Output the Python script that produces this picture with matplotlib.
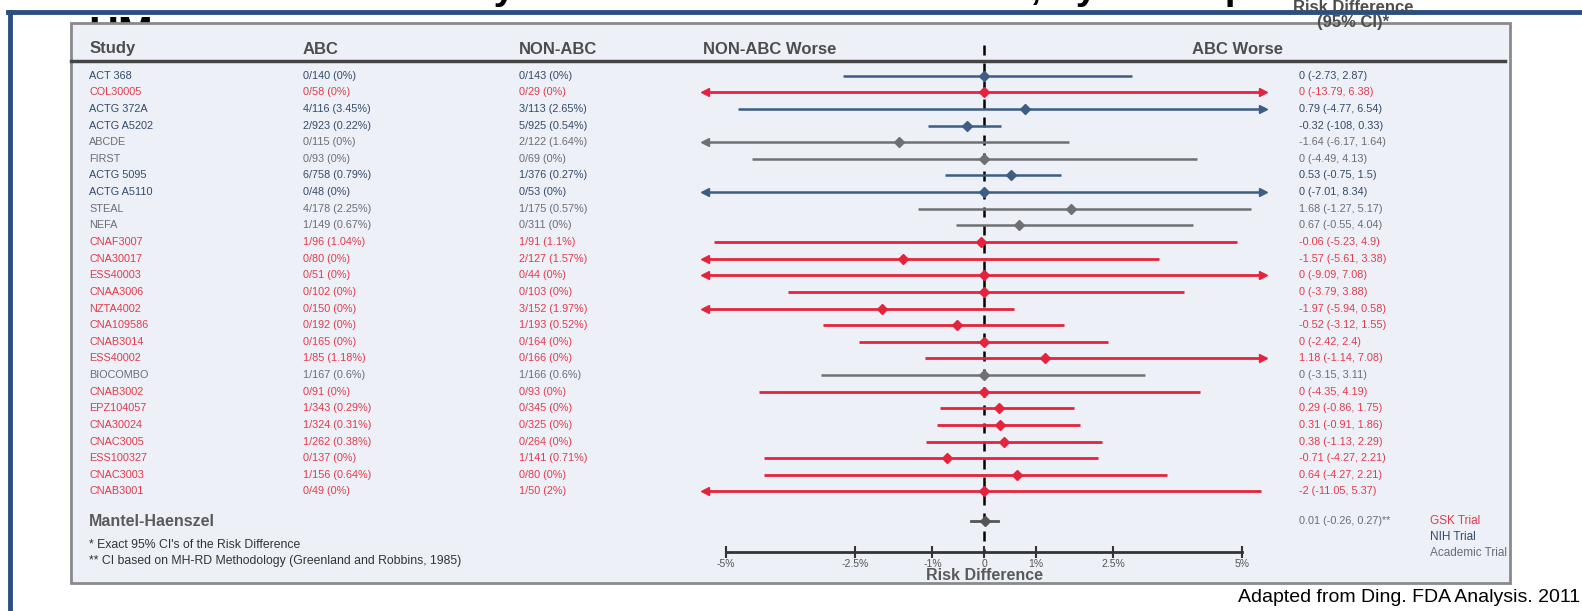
import matplotlib
matplotlib.use("Agg")
import matplotlib.pyplot as plt
from matplotlib.patches import Rectangle
from matplotlib.lines import Line2D
from matplotlib.transforms import blended_transform_factory, Bbox, TransformedBbox

# ---- data ----
studies = ["ACT 368", "COL30005", "ACTG 372A", "ACTG A5202", "ABCDE", "FIRST",
           "ACTG 5095", "ACTG A5110", "STEAL", "NEFA", "CNAF3007", "CNA30017",
           "ESS40003", "CNAA3006", "NZTA4002", "CNA109586", "CNAB3014",
           "ESS40002", "BIOCOMBO", "CNAB3002", "EPZ104057", "CNA30024",
           "CNAC3005", "ESS100327", "CNAC3003", "CNAB3001"]
sponsor = ["nih", "gsk", "nih", "nih", "acad", "acad", "nih", "nih", "acad",
           "acad", "gsk", "gsk", "gsk", "gsk", "gsk", "gsk", "gsk", "gsk",
           "acad", "gsk", "gsk", "gsk", "gsk", "gsk", "gsk", "gsk"]
abc = ["0/140 (0%)", "0/58 (0%)", "4/116 (3.45%)", "2/923 (0.22%)",
       "0/115 (0%)", "0/93 (0%)", "6/758 (0.79%)", "0/48 (0%)",
       "4/178 (2.25%)", "1/149 (0.67%)", "1/96 (1.04%)", "0/80 (0%)",
       "0/51 (0%)", "0/102 (0%)", "0/150 (0%)", "0/192 (0%)", "0/165 (0%)",
       "1/85 (1.18%)", "1/167 (0.6%)", "0/91 (0%)", "1/343 (0.29%)",
       "1/324 (0.31%)", "1/262 (0.38%)", "0/137 (0%)", "1/156 (0.64%)",
       "0/49 (0%)"]
nonabc = ["0/143 (0%)", "0/29 (0%)", "3/113 (2.65%)", "5/925 (0.54%)",
          "2/122 (1.64%)", "0/69 (0%)", "1/376 (0.27%)", "0/53 (0%)",
          "1/175 (0.57%)", "0/311 (0%)", "1/91 (1.1%)", "2/127 (1.57%)",
          "0/44 (0%)", "0/103 (0%)", "3/152 (1.97%)", "1/193 (0.52%)",
          "0/164 (0%)", "0/166 (0%)", "1/166 (0.6%)", "0/93 (0%)",
          "0/345 (0%)", "0/325 (0%)", "0/264 (0%)", "1/141 (0.71%)",
          "0/80 (0%)", "1/50 (2%)"]
rd_text = ["0 (-2.73, 2.87)", "0 (-13.79, 6.38)", "0.79 (-4.77, 6.54)",
           "-0.32 (-108, 0.33)", "-1.64 (-6.17, 1.64)", "0 (-4.49, 4.13)",
           "0.53 (-0.75, 1.5)", "0 (-7.01, 8.34)", "1.68 (-1.27, 5.17)",
           "0.67 (-0.55, 4.04)", "-0.06 (-5.23, 4.9)", "-1.57 (-5.61, 3.38)",
           "0 (-9.09, 7.08)", "0 (-3.79, 3.88)", "-1.97 (-5.94, 0.58)",
           "-0.52 (-3.12, 1.55)", "0 (-2.42, 2.4)", "1.18 (-1.14, 7.08)",
           "0 (-3.15, 3.11)", "0 (-4.35, 4.19)", "0.29 (-0.86, 1.75)",
           "0.31 (-0.91, 1.86)", "0.38 (-1.13, 2.29)", "-0.71 (-4.27, 2.21)",
           "0.64 (-4.27, 2.21)", "-2 (-11.05, 5.37)"]
est = [0, 0, 0.79, -0.32, -1.64, 0, 0.53, 0, 1.68, 0.67, -0.06, -1.57, 0, 0,
       -1.97, -0.52, 0, 1.18, 0, 0, 0.29, 0.31, 0.38, -0.71, 0.64, 0]
lo = [-2.73, -13.79, -4.77, -1.08, -6.17, -4.49, -0.75, -7.01, -1.27, -0.55,
      -5.23, -5.61, -9.09, -3.79, -5.94, -3.12, -2.42, -1.14, -3.15, -4.35,
      -0.86, -0.91, -1.13, -4.27, -4.27, -11.05]
hi = [2.87, 6.38, 6.54, 0.33, 1.64, 4.13, 1.5, 8.34, 5.17, 4.04, 4.9, 3.38,
      7.08, 3.88, 0.58, 1.55, 2.4, 7.08, 3.11, 4.19, 1.75, 1.86, 2.29, 2.21,
      3.55, 5.37]
mh_est, mh_lo, mh_hi = 0.01, -0.26, 0.27
mh_text = "0.01 (-0.26, 0.27)**"
xticks = [-5, -2.5, -1, 0, 1, 2.5, 5]
xticklabels = ["-5%", "-2.5%", "-1%", "0", "1%", "2.5%", "5%"]
legend_names = ["GSK Trial", "NIH Trial", "Academic Trial"]
legend_keys = ["gsk", "nih", "acad"]

line_col = {"gsk": "#e5233c", "nih": "#3e5d85", "acad": "#6f7073"}
text_col = {"gsk": "#e23a4c", "nih": "#34496b", "acad": "#6c6c74"}
hdr_col = "#4d4d4d"

W, H = 1582, 611
ROW0, STEP = 75.7, 16.63
CLIP = 5.4
FS = 7.8


def fx(p):
    return p / W


def fy(p):
    return 1 - p / H


def yrow(p):
    # pixel row -> data y
    return (p - ROW0) / STEP


plt.rcParams["font.family"] = ["Liberation Sans", "DejaVu Sans"]
fig = plt.figure(figsize=(W / 100, H / 100), dpi=100)

# slide frame and title (mostly off the top)
fig.add_artist(Line2D([fx(8), 1], [fy(12), fy(12)], color="#2a4f7f", lw=3.5))
fig.add_artist(Line2D([fx(10), fx(10)], [fy(12), 0], color="#2a4f7f", lw=3.5))
fig.text(0.5, fy(-1), "FDA Meta-analysis: Abacavir and Risk of MI, by Trial Sponsor",
         ha="center", va="baseline", fontsize=28, weight="bold", zorder=-3)
top_box = TransformedBbox(Bbox([[0, fy(23)], [fx(200), 1]]), fig.transFigure)
hm = fig.text(fx(88), fy(46), "HM", fontsize=30, weight="bold", zorder=-3)
hm.set_clip_box(top_box)
hm.set_clip_on(True)

# panel
panel = Rectangle((fx(71), fy(583)), fx(1510 - 71), (583 - 23) / H,
                  transform=fig.transFigure, facecolor="#edf1f7",
                  edgecolor="#8a8a8a", lw=2, zorder=-2)
fig.patches.append(panel)
panel_box = TransformedBbox(Bbox([[fx(71), fy(583)], [fx(1509), fy(23)]]),
                            fig.transFigure)

ax = fig.add_axes([fx(700), fy(575), fx(1268 - 700), (575 - 40) / H])
ax.patch.set_visible(False)
ax.set_xlim(-5.5, 5.5)
ax.set_ylim(yrow(575), yrow(40))
for s in ["top", "left", "right"]:
    ax.spines[s].set_visible(False)
ax.set_yticks([])
ax.spines["bottom"].set_position(("data", yrow(552)))
ax.spines["bottom"].set_bounds(-5, 5)
ax.spines["bottom"].set_linewidth(2)
ax.spines["bottom"].set_color("#333333")
ax.set_xticks(xticks)
ax.set_xticklabels(xticklabels)
ax.tick_params(axis="x", direction="inout", length=8, width=1.5,
               color="#333333", labelsize=7.5, labelcolor="#555555", pad=1)

# zero line
ax.plot([0, 0], [yrow(45), yrow(552)], color="black", lw=1.8,
        dashes=(4, 3.2), zorder=1)

for i in range(len(studies)):
    c = line_col[sponsor[i]]
    l = max(lo[i], -CLIP)
    h = min(hi[i], CLIP)
    lw = 2 if sponsor[i] == "gsk" else 1.8
    ax.plot([l, h], [i, i], color=c, lw=lw, solid_capstyle="butt",
            clip_on=False, zorder=2)
    if lo[i] < -CLIP:
        ax.plot(-CLIP, i, marker="<", ms=6, color=c, clip_on=False, zorder=3)
    if hi[i] > CLIP:
        ax.plot(CLIP, i, marker=">", ms=6, color=c, clip_on=False, zorder=3)
    ax.plot(est[i], i, marker="D", ms=5, color=c, clip_on=False, zorder=3)

ymh = yrow(521)
ax.plot([mh_lo, mh_hi], [ymh, ymh], color="#555555", lw=2, zorder=2)
ax.plot(mh_est, ymh, marker="D", ms=5, color="#555555", zorder=3)

ax.text(0, yrow(575), "Risk Difference", ha="center", va="center",
        fontsize=11.5, weight="bold", color="#5a5a5a")

# text columns
tr = blended_transform_factory(fig.transFigure, ax.transData)
for i in range(len(studies)):
    tc = text_col[sponsor[i]]
    ax.text(fx(89), i, studies[i], transform=tr, fontsize=FS, color=tc,
            va="center", clip_on=False)
    ax.text(fx(303), i, abc[i], transform=tr, fontsize=FS, color=tc,
            va="center", clip_on=False)
    ax.text(fx(519), i, nonabc[i], transform=tr, fontsize=FS, color=tc,
            va="center", clip_on=False)
    ax.text(fx(1299), i, rd_text[i], transform=tr, fontsize=FS, color=tc,
            va="center", clip_on=False)

ax.text(fx(89), ymh, "Mantel-Haenszel", transform=tr, fontsize=11.5,
        weight="bold", color="#5a5a5a", va="center")
ax.text(fx(1299), ymh, mh_text, transform=tr, fontsize=FS, color="#6c6c74",
        va="center")
for k, name in enumerate(legend_names):
    t = ax.text(fx(1430), yrow(521 + 16 * k), name, transform=tr,
                fontsize=8.5, color=text_col[legend_keys[k]], va="center")
    t.set_clip_box(panel_box)
    t.set_clip_on(True)
ax.text(fx(89), yrow(545), "* Exact 95% CI's of the Risk Difference",
        transform=tr, fontsize=8.8, color="#333333", va="center")
ax.text(fx(89), yrow(561),
        "** CI based on MH-RD Methodology (Greenland and Robbins, 1985)",
        transform=tr, fontsize=8.8, color="#333333", va="center")

# headers
hkw = dict(fontsize=12, weight="bold", color=hdr_col, va="center")
fig.text(fx(90), fy(49), "Study", **hkw)
fig.text(fx(303), fy(49), "ABC", **hkw)
fig.text(fx(519), fy(49), "NON-ABC", **hkw)
fig.text(fx(703), fy(49), "NON-ABC Worse", **hkw)
fig.text(fx(1283), fy(49), "ABC Worse", ha="right", **hkw)
fig.text(fx(1353), fy(7), "Risk Difference", ha="center", **hkw)
fig.text(fx(1353), fy(22), "(95% CI)*", ha="center", **hkw)
fig.add_artist(Line2D([fx(71), fx(1505)], [fy(61), fy(61)], color="#444444",
                      lw=2.5))

fig.text(fx(1580), fy(598), "Adapted from Ding. FDA Analysis. 2011",
         ha="right", va="center", fontsize=14, color="black")

fig.savefig("out.png", dpi=100)
